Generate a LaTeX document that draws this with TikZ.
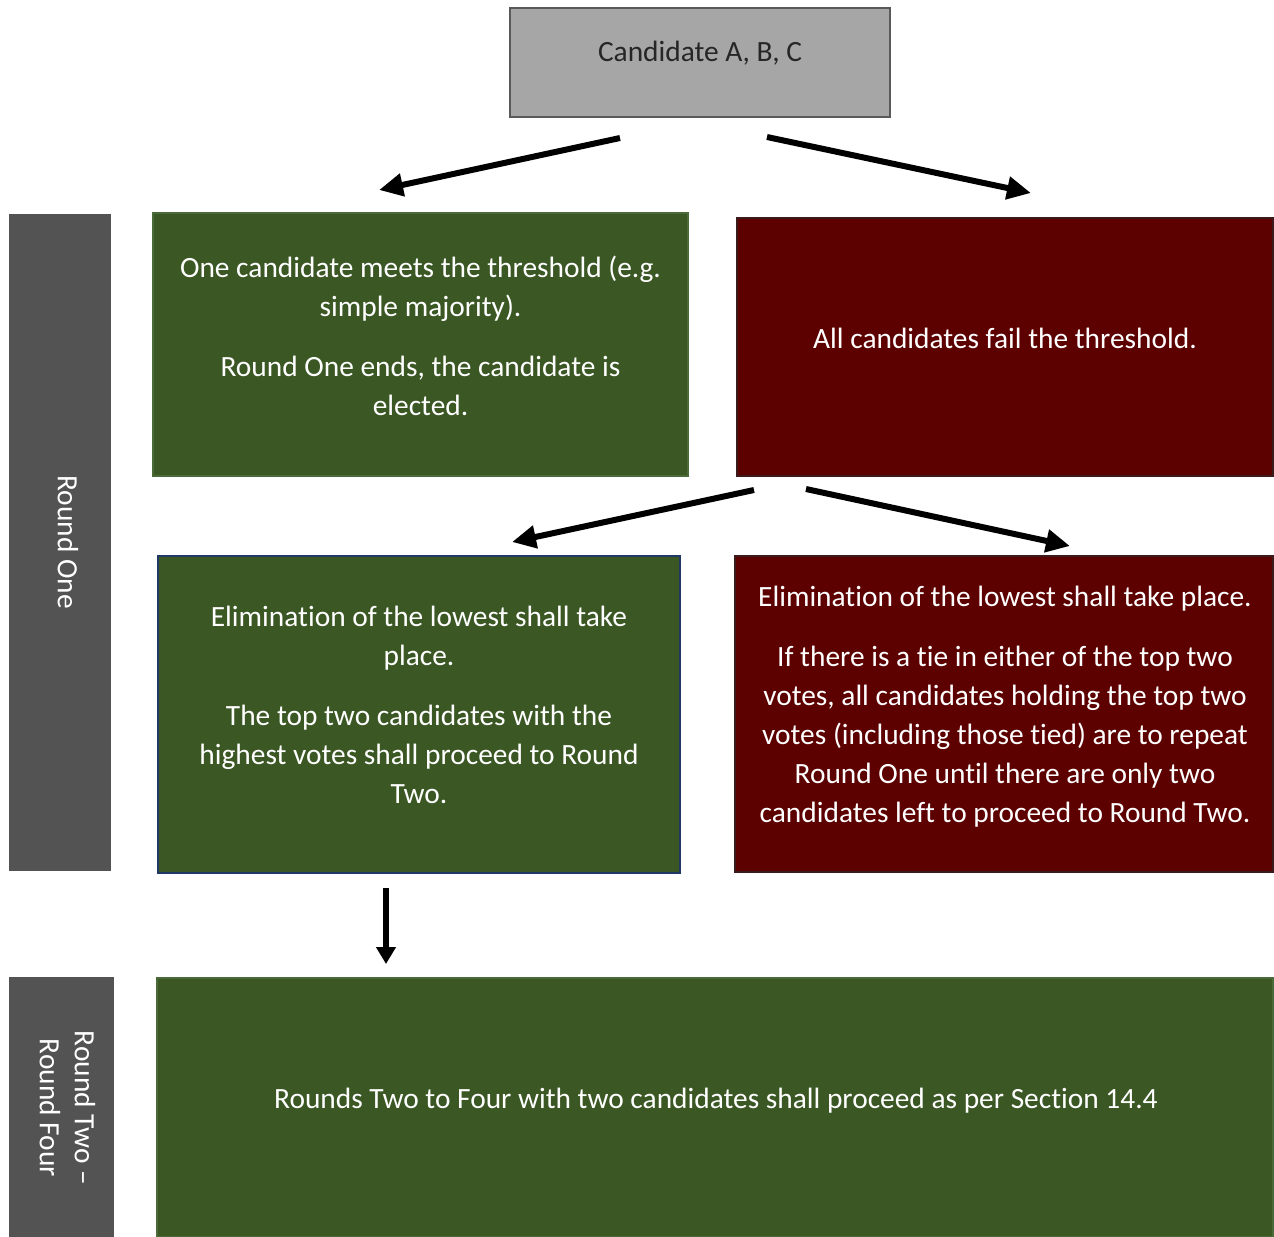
\documentclass[tikz,border=0pt]{standalone}
\usepackage{fontspec}
\setmainfont{Carlito}[Ligatures=NoCommon]
\usetikzlibrary{arrows.meta}
\definecolor{boxgreen}{HTML}{3A5724}
\definecolor{greenedge}{HTML}{4B6A3A}
\definecolor{blueedge}{HTML}{1F3864}
\definecolor{boxred}{HTML}{5C0000}
\definecolor{rededge}{HTML}{3A1A1A}
\definecolor{sidegray}{HTML}{535353}
\definecolor{topfill}{HTML}{A6A6A6}
\definecolor{topedge}{HTML}{595959}
\begin{document}
\begin{tikzpicture}[x=1bp,y=-1bp,
  panel/.style={rectangle, inner sep=0pt, outer sep=0pt, line width=1.5bp},
  gbox/.style={panel, fill=boxgreen, draw=greenedge},
  rbox/.style={panel, fill=boxred, draw=rededge},
  sidebar/.style={panel, fill=sidegray},
  txt/.style={text=white, align=center, inner sep=0pt, font=\fontsize{29.4bp}{39bp}\selectfont},
  sidetxt/.style={text=white, align=center, inner sep=0pt, rotate=-90, font=\fontsize{29.4bp}{35bp}\selectfont},
  flow/.style={line width=6bp, -{Triangle[length=24bp,width=22bp]}},
  flowdown/.style={line width=6bp, -{Triangle[length=17bp,width=19bp]}}
]
\useasboundingbox (0,0) rectangle (1274,1237);
\fill[white] (0,0) rectangle (1274,1237);

% top box
\node[panel, fill=topfill, draw=topedge, line width=2bp, minimum width=380bp, minimum height=109bp] (top) at (700,62.5) {};
\node[txt, text=black!85] (toptxt) at (700,53) {Candidate A, B, C};

% side bars
\node[sidebar, minimum width=102bp, minimum height=657bp] (side1) at (60,542.5) {};
\node[sidetxt] (side1txt) at (68,542) {Round One};
\node[sidebar, minimum width=105bp, minimum height=260bp] (side2) at (61.5,1107) {};
\node[sidetxt] (side2txt) at (67.5,1108) {Round Two –\\Round Four};

% row 1
\node[gbox, minimum width=535bp, minimum height=263bp] (g1) at (420.5,344.5) {};
\node[txt] (g1txt) at (420.5,335.5) {One candidate meets the threshold (e.g.\\simple majority).\\[21bp]Round One ends, the candidate is\\elected.};
\node[rbox, minimum width=536bp, minimum height=258bp] (r1) at (1005,347) {};
\node[txt] (r1txt) at (1005,338) {All candidates fail the threshold.};

% row 2
\node[gbox, draw=blueedge, minimum width=522bp, minimum height=317bp] (g2) at (419,714.5) {};
\node[txt] (g2txt) at (419,705) {Elimination of the lowest shall take\\place.\\[21bp]The top two candidates with the\\highest votes shall proceed to Round\\Two.};
\node[rbox, minimum width=538bp, minimum height=316bp] (r2) at (1004,714) {};
\node[txt] (r2txt) at (1005,706.5) {Elimination of the lowest shall take place.\\[21bp]If there is a tie in either of the top two\\votes, all candidates holding the top two\\votes (including those tied) are to repeat\\Round One until there are only two\\candidates left to proceed to Round Two.};

% row 3
\node[gbox, minimum width=1116bp, minimum height=259bp] (g3) at (715,1107.5) {};
\node[txt] (g3txt) at (716,1101) {Rounds Two to Four with two candidates shall proceed as per Section 14.4};

% arrows
\coordinate (a1s) at (620,138);
\coordinate (a1e) at (379,190);
\coordinate (a2s) at (767,137);
\coordinate (a2e) at (1031,193);
\coordinate (a3s) at (754,490);
\coordinate (a3e) at (512,542);
\coordinate (a4s) at (806,489);
\coordinate (a4e) at (1070,546);
\coordinate (a5s) at (386,888);
\coordinate (a5e) at (386,964);
\draw[flow] (a1s) -- (a1e);
\draw[flow] (a2s) -- (a2e);
\draw[flow] (a3s) -- (a3e);
\draw[flow] (a4s) -- (a4e);
\draw[flowdown] (a5s) -- (a5e);
\end{tikzpicture}
\end{document}
